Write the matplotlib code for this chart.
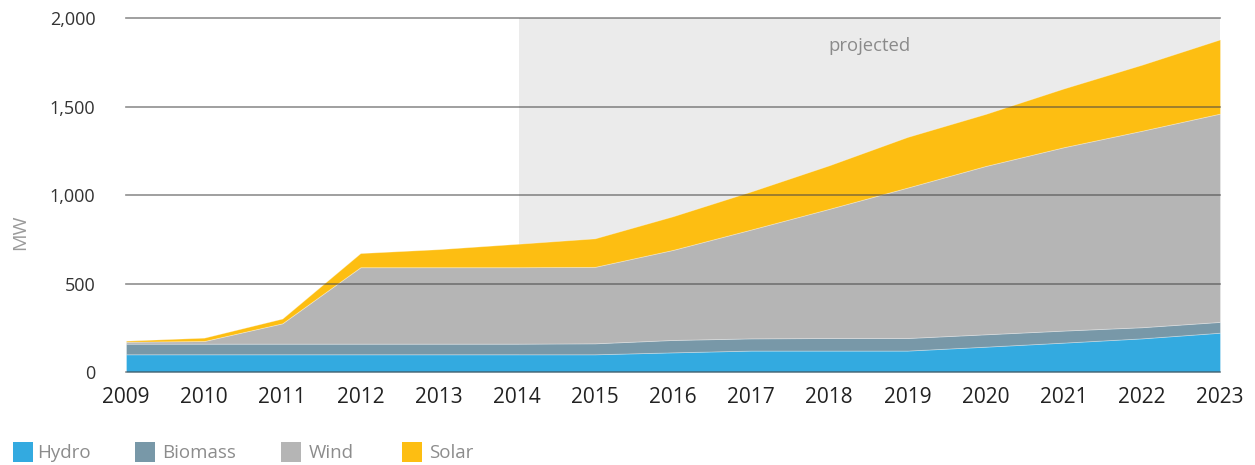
import matplotlib
matplotlib.use("Agg")
import matplotlib.pyplot as plt
from matplotlib.patches import Rectangle

plt.rcParams['font.family'] = ['Open Sans', 'DejaVu Sans']

years = list(range(2009, 2024))
hydro = [100, 100, 100, 100, 100, 100, 100, 111, 121, 121, 121, 143, 166, 190, 222]
biomass = [60, 60, 60, 60, 60, 60, 62, 70, 69, 71, 71, 70, 68, 63, 61]
wind = [11, 15, 115, 432, 432, 432, 432, 509, 615, 730, 850, 951, 1036, 1110, 1177]
solar = [6, 19, 27, 80, 102, 132, 161, 190, 215, 246, 286, 294, 332, 373, 419]
series_names = ["Hydro", "Biomass", "Wind", "Solar"]
colors = ["#33aae0", "#7898a8", "#b5b5b5", "#fdbe12"]
yticks = [0, 500, 1000, 1500, 2000]
ytick_labels = ["0", "500", "1,000", "1,500", "2,000"]
projected_start = 2014

W, H = 1255, 465
fig = plt.figure(figsize=(W / 100, H / 100), dpi=100)
ax = fig.add_axes([126 / W, 1 - 372 / H, (1220 - 126) / W, (372 - 18) / H])

ax.axvspan(projected_start + 0.03, years[-1], color="#ebebeb", zorder=0, lw=0)
ax.stackplot(years, hydro, biomass, wind, solar, colors=colors, lw=0.6,
             edgecolor=(1, 1, 1, 0.35), zorder=2)
for yv in yticks:
    ax.axhline(yv, color="#444444", alpha=0.6, lw=1.2, zorder=3, clip_on=False)

ax.text(2018.51, 1841, "projected", color="#8a8a8a", fontsize=13.3,
        ha="center", va="center", zorder=4)

ax.set_xlim(years[0], years[-1])
ax.set_ylim(0, 2000)
ax.set_xticks(years)
ax.set_xticklabels([str(y) for y in years], fontsize=15, color="#222222")
ax.set_yticks(yticks)
ax.set_yticklabels(ytick_labels, fontsize=13, color="#333333")
ax.tick_params(axis="both", length=0)
ax.tick_params(axis="x", pad=11)
ax.tick_params(axis="y", pad=22)
for s in ax.spines.values():
    s.set_visible(False)
ax.patch.set_alpha(0)

fig.text(20 / W, 1 - 232 / H, "MW", rotation=90, color="#9a9a9a",
         fontsize=14, ha="center", va="center")

# legend
sq_x = [13, 135, 281, 402]
tx_x = [37, 162, 309, 429]
for name, col, sx, tx in zip(series_names, colors, sq_x, tx_x):
    fig.patches.append(Rectangle((sx / W, 1 - 462 / H), 20 / W, 20 / H,
                                 transform=fig.transFigure, color=col, lw=0))
    fig.text(tx / W, 1 - 453 / H, name, color="#8c8c8c", fontsize=13.5,
             ha="left", va="center")

fig.savefig("out.png", dpi=100)
